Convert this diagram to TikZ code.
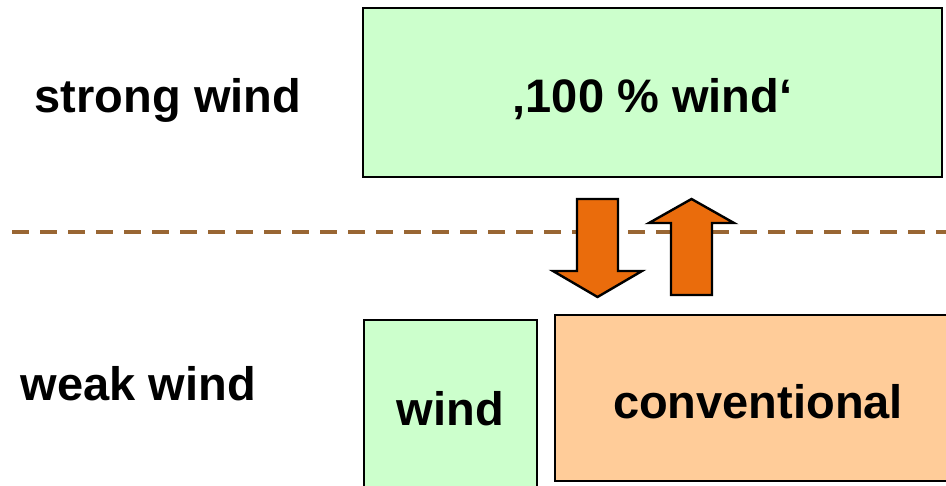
\documentclass[tikz,border=0pt]{standalone}
\usepackage{fontspec}
\setmainfont{Liberation Sans}
\usepackage{tikz}
\definecolor{windgreen}{RGB}{204,255,204}
\definecolor{convorange}{RGB}{255,204,153}
\definecolor{shiftorange}{RGB}{234,108,12}
\definecolor{cutbrown}{RGB}{153,102,51}
\tikzset{x=0.5pt, y=0.5pt, every node/.style={font=\bfseries\fontsize{23.5}{28}\selectfont}}
\tikzstyle{windbox}=[rectangle,draw=black,fill=windgreen,line width=1pt,inner sep=0pt,text height=20.5pt,text depth=0pt]
\tikzstyle{convbox}=[rectangle,draw=black,fill=convorange,line width=1pt,inner sep=0pt,text height=20.5pt,text depth=0pt]
\tikzstyle{caseLabel}=[anchor=base,inner sep=0pt]
\tikzstyle{shiftArrow}=[draw=black,fill=shiftorange,line width=1.2pt,line join=miter]
\tikzstyle{cutLine}=[draw=cutbrown,line width=2pt,dash pattern=on 8.5pt off 5.5pt]

\begin{document}
\begin{tikzpicture}
	\useasboundingbox (0,0) rectangle (946,486);
	\node at (168,373) [caseLabel] (strong) {strong wind};
	\node at (138.5,85) [caseLabel] (weak) {weak wind};
	\node at (652.5,393.5) [windbox,minimum width=289.5pt,minimum height=84.5pt] (full) {‚100 \% wind‘};
	\node at (450.5,81) [windbox,minimum width=86.5pt,minimum height=85pt] (wind) {wind};
	\node at (758,87.5) [convbox,minimum width=203pt,minimum height=83pt] (conv) {conventional};
	\coordinate (cutW) at (12,254);
	\coordinate (cutE) at (946,254);
	\draw[cutLine] (cutW) -- (cutE);
	\draw[shiftArrow] (577,287) -- (618,287) -- (618,215) -- (642,215) -- (597.5,189)
		-- (553,215) -- (577,215) -- cycle;
	\draw[shiftArrow] (671,191) -- (712,191) -- (712,263) -- (734,263) -- (691.5,287)
		-- (649,263) -- (671,263) -- cycle;
\end{tikzpicture}
\end{document}
